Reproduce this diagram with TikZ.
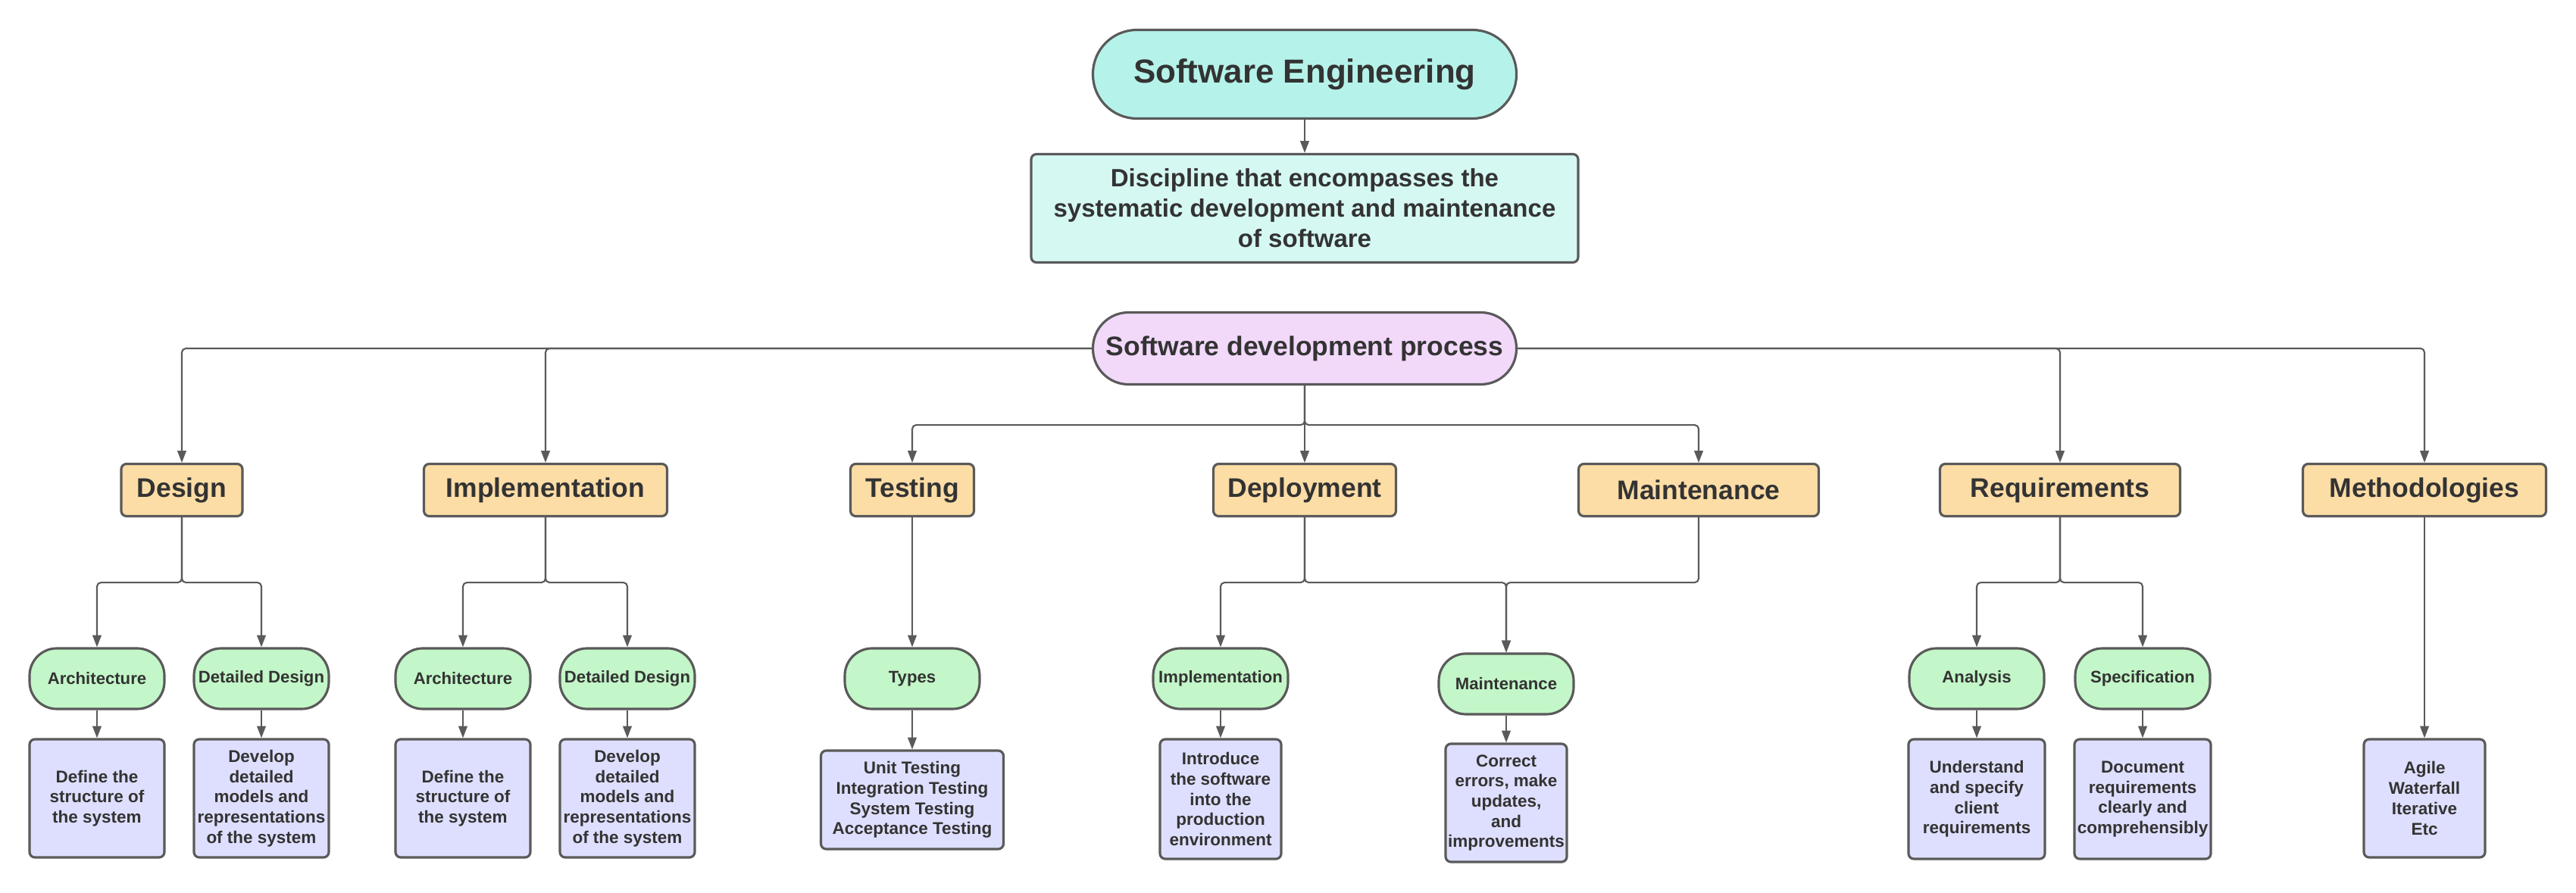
\documentclass[tikz,border=0pt]{standalone}
\usepackage{fontspec}
\setmainfont{Liberation Sans}
\usetikzlibrary{arrows.meta}

\definecolor{seteal}{HTML}{B5F3EA}
\definecolor{discteal}{HTML}{D6F8F3}
\definecolor{procpink}{HTML}{F2D9FA}
\definecolor{phaseorange}{HTML}{FDDDA6}
\definecolor{topicgreen}{HTML}{C3F6C8}
\definecolor{notelilac}{HTML}{DEDFFE}
\definecolor{edgegray}{HTML}{5A5A5A}
\definecolor{inkgray}{HTML}{333333}

\tikzset{
  box/.style={draw=edgegray, line width=0.9pt, text=inkgray, align=center, inner sep=0pt},
  phase/.style={box, fill=phaseorange, rounded corners=2pt, minimum height=0.69cm,
    font=\fontsize{10.1}{12}\selectfont\bfseries},
  topic/.style={box, fill=topicgreen, rounded corners=0.36cm, minimum width=1.78cm,
    minimum height=0.80cm, font=\fontsize{6.3}{7.5}\selectfont\bfseries},
  note/.style={box, fill=notelilac, rounded corners=2pt,
    font=\fontsize{6.4}{7.6}\selectfont\bfseries},
  conn/.style={draw=edgegray, line width=0.6pt, -{Triangle[length=4.5pt,width=3.3pt]},
    rounded corners=1.5pt},
  bus/.style={to path={-- ++(0,-#1) -| (\tikztotarget)}},
}

\begin{document}
\begin{tikzpicture}
    \useasboundingbox (0,0) rectangle (34,-11.79);

    % top of the chart
    \node[box, fill=seteal, rounded corners=0.58cm, minimum width=5.59cm, minimum height=1.17cm,
        font=\fontsize{12.5}{15}\selectfont\bfseries] (se) at (17.22,-0.98) {Software Engineering};
    \node[box, fill=discteal, rounded corners=2pt, minimum width=7.22cm, minimum height=1.43cm,
        font=\fontsize{9.4}{11.4}\selectfont\bfseries] (disc) at (17.22,-2.75)
        {Discipline that encompasses the\\systematic development and maintenance\\of software};
    \node[box, fill=procpink, rounded corners=0.47cm, minimum width=5.59cm, minimum height=0.95cm,
        font=\fontsize{10.1}{12}\selectfont\bfseries] (sdp) at (17.22,-4.60) {Software development process};

    % phases
    \node[phase, minimum width=1.60cm] (design) at (2.40,-6.47) {Design};
    \node[phase, minimum width=3.21cm] (impl) at (7.20,-6.47) {Implementation};
    \node[phase, minimum width=1.63cm] (testing) at (12.04,-6.47) {Testing};
    \node[phase, minimum width=2.41cm] (deploy) at (17.22,-6.47) {Deployment};
    \node[phase, minimum width=3.17cm] (maint) at (22.42,-6.47) {Maintenance};
    \node[phase, minimum width=3.17cm] (req) at (27.19,-6.47) {Requirements};
    \node[phase, minimum width=3.21cm] (meth) at (32.00,-6.47) {Methodologies};

    % topics
    \node[topic] (darch) at (1.28,-8.96) {Architecture};
    \node[topic] (ddet) at (3.45,-8.96) {Detailed Design};
    \node[topic] (iarch) at (6.11,-8.96) {Architecture};
    \node[topic] (idet) at (8.28,-8.96) {Detailed Design};
    \node[topic] (types) at (12.04,-8.96) {Types};
    \node[topic] (dimpl) at (16.11,-8.96) {Implementation};
    \node[topic] (dmaint) at (19.88,-9.03) {Maintenance};
    \node[topic] (anal) at (26.09,-8.96) {Analysis};
    \node[topic] (spec) at (28.28,-8.96) {Specification};

    % notes
    \node[note, minimum width=1.78cm, minimum height=1.56cm] (darchd) at (1.28,-10.54)
        {Define the\\structure of\\the system};
    \node[note, minimum width=1.78cm, minimum height=1.56cm] (ddetd) at (3.45,-10.54)
        {Develop\\detailed\\models and\\representations\\of the system};
    \node[note, minimum width=1.78cm, minimum height=1.56cm] (iarchd) at (6.11,-10.54)
        {Define the\\structure of\\the system};
    \node[note, minimum width=1.78cm, minimum height=1.56cm] (idetd) at (8.28,-10.54)
        {Develop\\detailed\\models and\\representations\\of the system};
    \node[note, minimum width=2.41cm, minimum height=1.30cm] (typesd) at (12.04,-10.56)
        {Unit Testing\\Integration Testing\\System Testing\\Acceptance Testing};
    \node[note, minimum width=1.60cm, minimum height=1.58cm] (dimpld) at (16.11,-10.55)
        {Introduce\\the software\\into the\\production\\environment};
    \node[note, minimum width=1.60cm, minimum height=1.56cm] (dmaintd) at (19.88,-10.60)
        {Correct\\errors, make\\updates,\\and\\improvements};
    \node[note, minimum width=1.80cm, minimum height=1.58cm] (anald) at (26.09,-10.55)
        {Understand\\and specify\\client\\requirements};
    \node[note, minimum width=1.80cm, minimum height=1.58cm] (specd) at (28.28,-10.55)
        {Document\\requirements\\clearly and\\comprehensibly};
    \node[note, minimum width=1.60cm, minimum height=1.56cm] (methd) at (32.00,-10.54)
        {Agile\\Waterfall\\Iterative\\Etc};

    % connectors
    \draw[conn] (se) -- (disc);
    \draw[conn] (sdp.west) -| (design);
    \draw[conn] (sdp.west) -| (impl);
    \draw[conn] (sdp.east) -| (req);
    \draw[conn] (sdp.east) -| (meth);
    \draw[conn] (sdp.south) to[bus=0.52] (testing);
    \draw[conn] (sdp) -- (deploy);
    \draw[conn] (sdp.south) to[bus=0.52] (maint);

    \draw[conn] (design.south) to[bus=0.86] (darch);
    \draw[conn] (design.south) to[bus=0.86] (ddet);
    \draw[conn] (impl.south) to[bus=0.86] (iarch);
    \draw[conn] (impl.south) to[bus=0.86] (idet);
    \draw[conn] (testing) -- (types);
    \draw[conn] (deploy.south) to[bus=0.86] (dimpl);
    \draw[conn] (deploy.south) to[bus=0.86] (dmaint);
    \draw[conn] (maint.south) to[bus=0.86] (dmaint);
    \draw[conn] (req.south) to[bus=0.86] (anal);
    \draw[conn] (req.south) to[bus=0.86] (spec);
    \draw[conn] (meth) -- (methd);

    \draw[conn] (darch) -- (darchd);
    \draw[conn] (ddet) -- (ddetd);
    \draw[conn] (iarch) -- (iarchd);
    \draw[conn] (idet) -- (idetd);
    \draw[conn] (types) -- (typesd);
    \draw[conn] (dimpl) -- (dimpld);
    \draw[conn] (dmaint) -- (dmaintd);
    \draw[conn] (anal) -- (anald);
    \draw[conn] (spec) -- (specd);
\end{tikzpicture}
\end{document}
